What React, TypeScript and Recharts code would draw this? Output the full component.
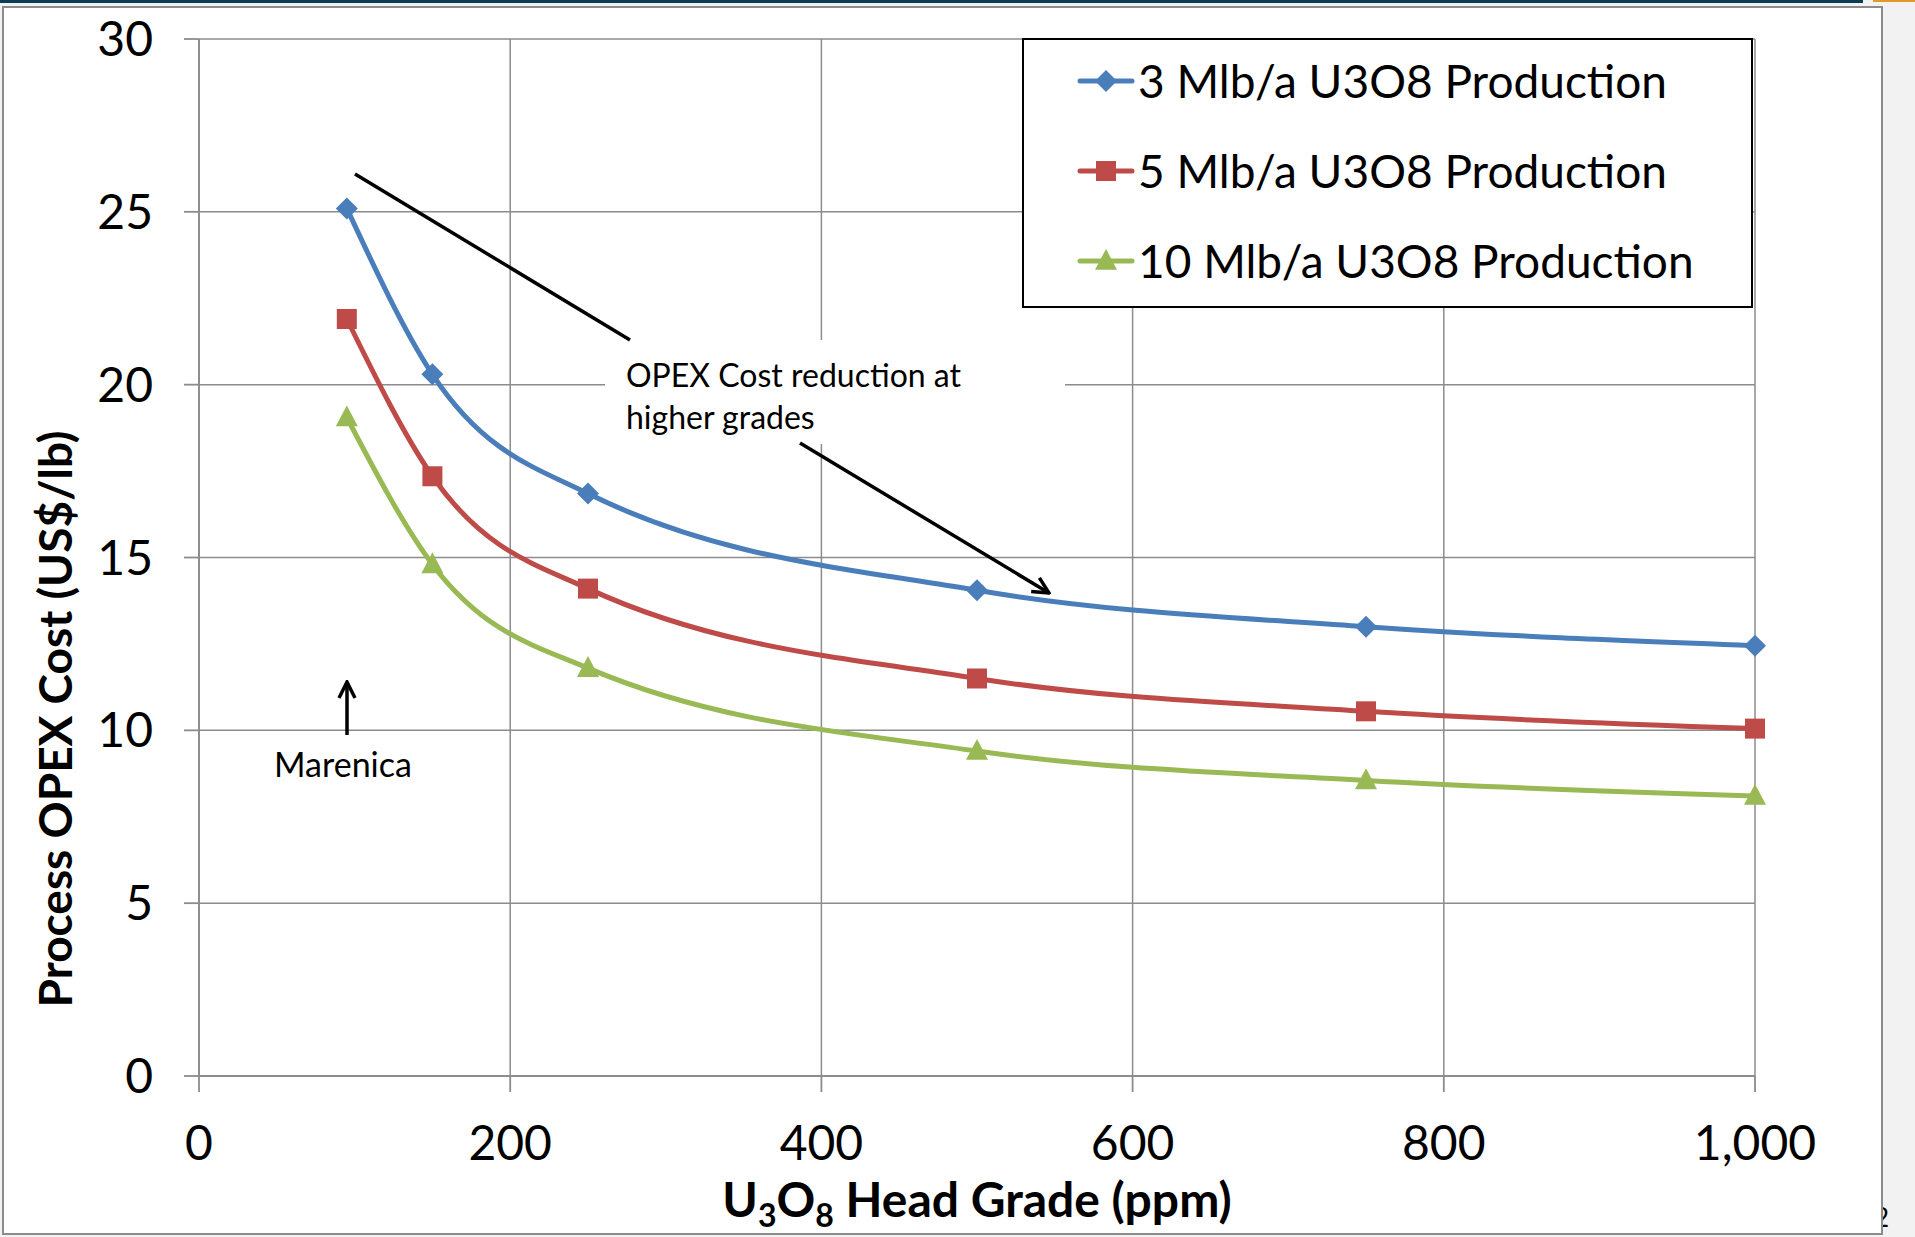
import React from "react";
import { LineChart, Line, XAxis, YAxis, CartesianGrid, Legend } from "recharts";

// U3O8 head grade (ppm) vs process OPEX cost (US$/lb)
const grades = [95, 150, 250, 500, 750, 1000];
const cost3 = [25.1, 20.3, 16.85, 14.05, 13.0, 12.45];
const cost5 = [21.9, 17.35, 14.1, 11.5, 10.55, 10.05];
const cost10 = [19.05, 14.8, 11.8, 9.4, 8.55, 8.1];

const xTicks = [0, 200, 400, 600, 800, 1000];
const yTicks = [0, 5, 10, 15, 20, 25, 30];

const seriesNames = [
  "3 Mlb/a U3O8 Production",
  "5 Mlb/a U3O8 Production",
  "10 Mlb/a U3O8 Production",
];

const data = grades.map((g, i) => ({
  grade: g,
  s3: cost3[i],
  s5: cost5[i],
  s10: cost10[i],
}));

const BLUE = "#4a7ebb";
const RED = "#be4b48";
const GREEN = "#98b954";
const GRID = "#8c8c8c";
const FONT = "Lato, 'Open Sans', sans-serif";

const series = [
  { key: "s3", name: seriesNames[0], color: BLUE, shape: "diamond" },
  { key: "s5", name: seriesNames[1], color: RED, shape: "square" },
  { key: "s10", name: seriesNames[2], color: GREEN, shape: "triangle" },
];

function marker(shape: string, color: string, cx: number, cy: number) {
  if (shape === "diamond") {
    const s = 11;
    return <path d={`M${cx},${cy - s} L${cx + s},${cy} L${cx},${cy + s} L${cx - s},${cy} Z`} fill={color} />;
  }
  if (shape === "square") {
    const s = 10;
    return <rect x={cx - s} y={cy - s} width={s * 2} height={s * 2} fill={color} />;
  }
  const s = 11;
  return <path d={`M${cx},${cy - s * 1.1} L${cx + s},${cy + s * 0.8} L${cx - s},${cy + s * 0.8} Z`} fill={color} />;
}

function dotRenderer(shape: string, color: string) {
  return (p: any) => (
    <g key={`${shape}-${p.index}`}>{marker(shape, color, p.cx, p.cy)}</g>
  );
}

// legend box is hung off a zero-size wrapper so it doesn't eat plot space
function LegendBox() {
  return (
    <div
      style={{
        position: "absolute",
        left: 0,
        top: 0,
        width: 731,
        height: 270,
        boxSizing: "border-box",
        border: "2px solid #000",
        background: "#fff",
        fontFamily: FONT,
      }}
    >
      {series.map((s, i) => (
        <div
          key={s.key}
          style={{
            position: "absolute",
            left: 53,
            top: 41 + i * 90 - 30,
            height: 60,
            display: "flex",
            alignItems: "center",
            whiteSpace: "nowrap",
          }}
        >
          <svg width={58} height={30} style={{ marginRight: 3 }}>
            <line x1={3} y1={15} x2={55} y2={15} stroke={s.color} strokeWidth={5} strokeLinecap="round" />
            {marker(s.shape, s.color, 29, 15)}
          </svg>
          <span style={{ fontSize: 46, color: "#000", lineHeight: "60px" }}>{s.name}</span>
        </div>
      ))}
    </div>
  );
}

function YTitle() {
  return (
    <text
      x={72}
      y={719}
      transform="rotate(-90 72 719)"
      textAnchor="middle"
      fontFamily={FONT}
      fontWeight="bold"
      fontSize={46}
      fill="#000"
    >
      Process OPEX Cost (US$/lb)
    </text>
  );
}

function XTitle() {
  return (
    <text x={977} y={1217} textAnchor="middle" fontFamily={FONT} fontWeight="bold" fontSize={48} fill="#000">
      <tspan>U</tspan>
      <tspan dy={10} fontSize={32}>3</tspan>
      <tspan dy={-10}>O</tspan>
      <tspan dy={10} fontSize={32}>8</tspan>
      <tspan dy={-10}> Head Grade (ppm)</tspan>
    </text>
  );
}

function Annotations() {
  return (
    <svg
      width={1915}
      height={1237}
      style={{ position: "absolute", left: 0, top: 0, pointerEvents: "none" }}
    >
      <defs>
        <marker id="open-arrow" viewBox="0 0 20 20" refX={18} refY={10} markerWidth={20} markerHeight={20} markerUnits="userSpaceOnUse" orient="auto">
          <path d="M2,2 L18,10 L2,18" fill="none" stroke="#000" strokeWidth={3.5} />
        </marker>
      </defs>
      <rect x={605} y={340} width={460} height={104} fill="#fff" />
      <text fontFamily={FONT} fontSize={32} fill="#000">
        <tspan x={626} y={387}>OPEX Cost reduction at</tspan>
        <tspan x={626} y={429}>higher grades</tspan>
      </text>
      <line x1={355} y1={174} x2={630} y2={340} stroke="#000" strokeWidth={3.5} />
      <line x1={800} y1={443} x2={1049} y2={593} stroke="#000" strokeWidth={3.5} markerEnd="url(#open-arrow)" />
      <line x1={347} y1={735} x2={347} y2={682} stroke="#000" strokeWidth={3.5} markerEnd="url(#open-arrow)" />
      <text x={343} y={777} textAnchor="middle" fontFamily={FONT} fontSize={34} fill="#000">
        Marenica
      </text>
    </svg>
  );
}

export default function App() {
  return (
    <div style={{ position: "absolute", left: 0, top: 0, width: 1915, height: 1237, background: "#f2f2f2", overflow: "hidden" }}>
      <div style={{ position: "absolute", left: 0, top: 0, width: 1863, height: 3, background: "#0b3c4f" }} />
      <div style={{ position: "absolute", left: 1873, top: 0, width: 42, height: 2, background: "#e09a2b" }} />
      <svg width={1915} height={1237} style={{ position: "absolute", left: 0, top: 0 }}>
        <text x={1889} y={1227} textAnchor="end" fontFamily={FONT} fontSize={26} fill="#000">12</text>
      </svg>
      <div
        style={{
          position: "absolute",
          left: 2,
          top: 6,
          width: 1881,
          height: 1229,
          boxSizing: "border-box",
          border: `2px solid ${GRID}`,
          background: "#fff",
        }}
      />
      <div style={{ position: "absolute", left: 0, top: 0 }}>
        <LineChart
          width={1915}
          height={1237}
          data={data}
          margin={{ top: 39, right: 160, left: 99, bottom: 81 }}
        >
          <CartesianGrid stroke={GRID} strokeWidth={1.5} />
          <XAxis
            dataKey="grade"
            type="number"
            domain={[0, 1000]}
            ticks={xTicks}
            height={80}
            tickSize={16}
            tickMargin={34}
            tickFormatter={(v: number) => v.toLocaleString("en-US")}
            axisLine={{ stroke: GRID, strokeWidth: 1.8 }}
            tickLine={{ stroke: GRID, strokeWidth: 1.8 }}
            tick={{ fill: "#000", fontSize: 48, fontFamily: FONT }}
            label={<XTitle />}
          />
          <YAxis
            type="number"
            domain={[0, 30]}
            ticks={yTicks}
            width={100}
            tickSize={15}
            tickMargin={31}
            axisLine={{ stroke: GRID, strokeWidth: 1.8 }}
            tickLine={{ stroke: GRID, strokeWidth: 1.8 }}
            tick={{ fill: "#000", fontSize: 48, fontFamily: FONT }}
            label={<YTitle />}
          />
          {series.map((s) => (
            <Line
              key={s.key}
              type="monotone"
              dataKey={s.key}
              name={s.name}
              stroke={s.color}
              strokeWidth={5}
              dot={dotRenderer(s.shape, s.color)}
              activeDot={false}
              isAnimationActive={false}
            />
          ))}
          <Legend
            layout="horizontal"
            verticalAlign="middle"
            align="right"
            wrapperStyle={{ position: "absolute", left: 1022, top: 38, width: 0, height: 0, overflow: "visible" }}
            content={() => <LegendBox />}
          />
        </LineChart>
      </div>
      <Annotations />
    </div>
  );
}
